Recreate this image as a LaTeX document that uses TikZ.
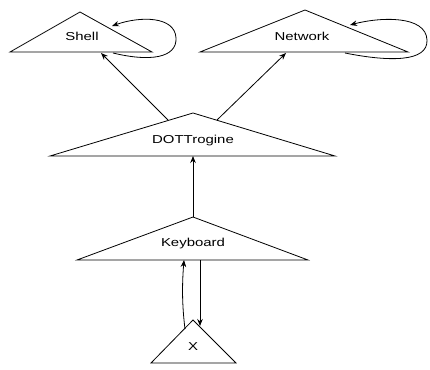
\documentclass[tikz,border=0pt]{standalone}
\usepackage{fontspec}
\newfontfamily\lblfont[FakeStretch=1.3]{Liberation Sans}
\usetikzlibrary{arrows.meta}
\tikzset{
  tri/.style={draw=black, line width=0.8pt, line join=miter},
  lbl/.style={inner sep=0pt, font=\lblfont\fontsize{11.5}{13}\selectfont},
  edge/.style={draw=black, line width=0.8pt, -{Stealth[length=7pt,width=5.5pt]}}
}
\begin{document}
\begin{tikzpicture}[x=1pt,y=-1pt]
  \useasboundingbox (0,0) rectangle (430,369);
  % triangles (left corner, apex, right corner)
  \draw[tri] (10,52)  -- (80,12)  -- (152,52) -- cycle;
  \draw[tri] (200,52) -- (305,10) -- (408,52) -- cycle;
  \draw[tri] (50,156) -- (193,113) -- (335,156) -- cycle;
  \draw[tri] (77,260) -- (193,217) -- (308,260) -- cycle;
  \draw[tri] (151,363) -- (193,320) -- (236,363) -- cycle;
  % labels
  \node[lbl] (shell) at (82,36) {Shell};
  \node[lbl] (net) at (302,36) {Network};
  \node[lbl] (dott) at (193,141) {DOTTrogine};
  \node[lbl] (kbd) at (193,244) {Keyboard};
  \node[lbl] (x) at (193,347) {X};
  % connector end points on the triangle outlines
  \coordinate (shellB) at (101,53);
  \coordinate (shellLoopOut) at (113,53);
  \coordinate (shellLoopIn) at (112,26);
  \coordinate (netB) at (286,53);
  \coordinate (netLoopOut) at (345,53);
  \coordinate (netLoopIn) at (350,25);
  \coordinate (dottL) at (168,120);
  \coordinate (dottR) at (217,120);
  \coordinate (dottB) at (193,156);
  \coordinate (kbdA) at (193,217);
  \coordinate (kbdBL) at (184,260);
  \coordinate (kbdBR) at (200,260);
  \coordinate (xL) at (185,329);
  \coordinate (xR) at (200,326);
  % connectors
  \draw[edge] (dottL) -- (shellB);
  \draw[edge] (dottR) -- (netB);
  \draw[edge] (kbdA) -- (dottB);
  \draw[edge] (kbdBR) -- (xR);
  \draw[edge] (xL) .. controls (182,305) and (182,285) .. (kbdBL);
  \draw[edge] (shellLoopOut) .. controls (150,62) and (177,58) .. (176,38)
              .. controls (175,16) and (140,16) .. (shellLoopIn);
  \draw[edge] (netLoopOut) .. controls (390,62) and (428,62) .. (427,40)
              .. controls (426,15) and (380,17) .. (netLoopIn);
\end{tikzpicture}
\end{document}
